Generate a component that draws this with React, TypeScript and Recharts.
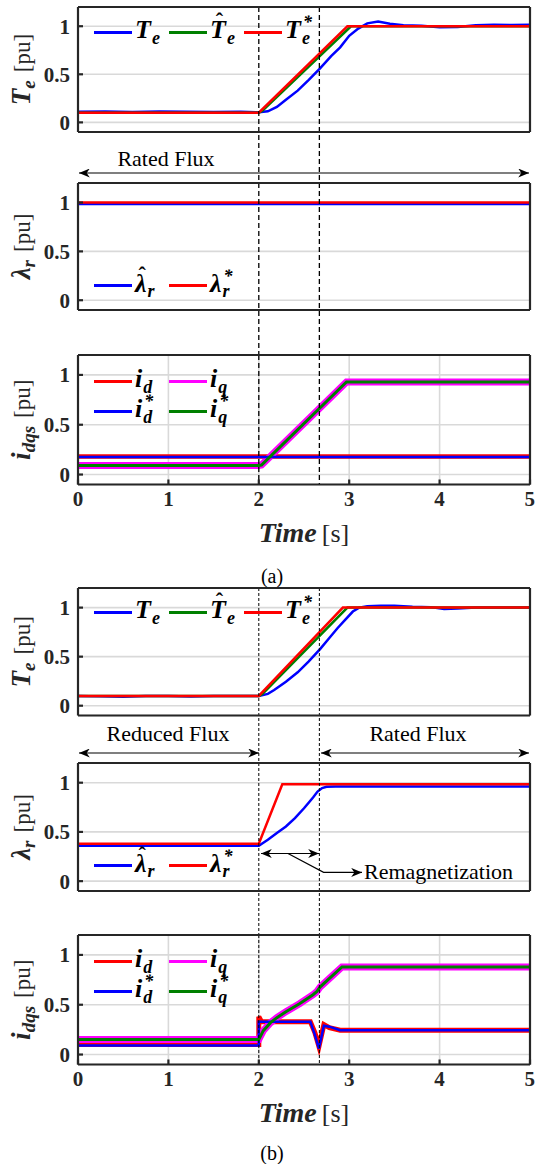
import React from 'react';
import { LineChart, Line, XAxis, YAxis, CartesianGrid, ReferenceLine, Legend } from 'recharts';

const SERIF = 'Liberation Serif, Tinos, DejaVu Serif, serif';
const INK = '#262626';
const GRID = '#d9d9d9';
const BLUE = '#0000ff';
const RED = '#ff0000';
const GREEN = '#008000';
const MAGENTA = '#ff00ff';

const timeTicks = [0, 1, 2, 3, 4, 5];
const valueTicks = [0, 0.5, 1];
const events = [2, 2.67];

// ---- (a) rated flux ----
const aTorqueRefT = [0, 2, 2.98, 5];
const aTorqueRef = [0.1, 0.1, 1, 1];
const aTorqueEstT = [0, 2, 2.04, 3.02, 5];
const aTorqueEst = [0.1, 0.1, 0.12, 1, 1];
const aTorqueT = [0, 0.3, 0.6, 0.9, 1.2, 1.5, 1.8, 2.0, 2.1, 2.2, 2.3, 2.43, 2.55, 2.68, 2.8, 2.9, 3.0, 3.1, 3.2, 3.32, 3.45, 3.6, 3.8, 4.0, 4.2, 4.4, 4.6, 4.8, 5];
const aTorque = [0.11, 0.112, 0.108, 0.112, 0.11, 0.107, 0.111, 0.105, 0.115, 0.16, 0.235, 0.33, 0.44, 0.565, 0.69, 0.78, 0.9, 0.975, 1.03, 1.05, 1.025, 1.01, 1.005, 0.99, 0.992, 1.01, 1.015, 1.012, 1.015];

const aFluxRefT = [0, 5];
const aFluxRef = [1, 1];
const aFluxEstT = [0, 5];
const aFluxEst = [0.985, 0.985];

const aIdT = [0, 2, 5];
const aId = [0.18, 0.18, 0.18];
const aIdRefT = [0, 5];
const aIdRef = [0.175, 0.175];
const aIqT = [0, 2, 2.03, 2.97, 5];
const aIq = [0.09, 0.09, 0.095, 0.93, 0.93];
const aIqRefT = [0, 2, 2.03, 2.97, 5];
const aIqRef = [0.09, 0.09, 0.095, 0.93, 0.93];

// ---- (b) reduced flux, then remagnetization ----
const bTorqueRefT = [0, 2, 2.93, 5];
const bTorqueRef = [0.1, 0.1, 1, 1];
const bTorqueEstT = [0, 2, 2.04, 2.98, 5];
const bTorqueEst = [0.1, 0.1, 0.12, 1, 1];
const bTorqueT = [0, 0.25, 0.5, 0.75, 1.0, 1.25, 1.5, 1.75, 2.0, 2.1, 2.17, 2.3, 2.43, 2.55, 2.68, 2.78, 2.87, 2.96, 3.04, 3.11, 3.2, 3.35, 3.5, 3.7, 3.9, 4.05, 4.2, 4.4, 4.6, 4.8, 5];
const bTorque = [0.1, 0.095, 0.09, 0.1, 0.1, 0.095, 0.1, 0.1, 0.1, 0.12, 0.16, 0.245, 0.34, 0.45, 0.58, 0.69, 0.79, 0.88, 0.96, 1.0, 1.015, 1.02, 1.02, 1.01, 1.005, 0.985, 0.99, 1.0, 1.0, 1.0, 1.0];

const bFluxRefT = [0, 2, 2.26, 5];
const bFluxRef = [0.38, 0.38, 0.985, 0.985];
const bFluxEstT = [0, 2, 2.1, 2.2, 2.3, 2.4, 2.5, 2.6, 2.65, 2.7, 2.75, 2.85, 5];
const bFluxEst = [0.36, 0.36, 0.42, 0.49, 0.555, 0.64, 0.74, 0.85, 0.91, 0.945, 0.958, 0.962, 0.962];

const bIdT = [0, 2, 2, 2.03, 2.57, 2.62, 2.665, 2.72, 2.78, 2.9, 5];
const bId = [0.1, 0.1, 0.38, 0.33, 0.33, 0.22, 0.08, 0.3, 0.27, 0.245, 0.245];
const bIdRefT = [0, 2, 2, 2.57, 2.62, 2.665, 2.72, 2.78, 2.9, 5];
const bIdRef = [0.09, 0.09, 0.33, 0.33, 0.2, 0.06, 0.29, 0.28, 0.245, 0.245];
const bIqT = [0, 2, 2.05, 2.13, 2.2, 2.3, 2.45, 2.6, 2.64, 2.68, 2.8, 2.92, 5];
const bIq = [0.15, 0.15, 0.24, 0.32, 0.37, 0.43, 0.51, 0.6, 0.63, 0.68, 0.78, 0.88, 0.88];
const bIqRefT = [0, 2, 2.05, 2.13, 2.2, 2.3, 2.45, 2.6, 2.64, 2.68, 2.8, 2.92, 5];
const bIqRef = [0.15, 0.15, 0.24, 0.32, 0.37, 0.43, 0.51, 0.6, 0.63, 0.68, 0.78, 0.88, 0.88];

const pts = (t: number[], v: number[]) => t.map((x, i) => ({ t: x, v: v[i] }));

function Sym({ base, sub, sup, hat }: { base: string; sub: string; sup?: string; hat?: boolean }) {
  return (
    <span style={{ display: 'inline-flex', alignItems: 'baseline', fontFamily: SERIF, fontWeight: 700, fontStyle: 'italic', color: '#000', lineHeight: 1 }}>
      <span style={{ position: 'relative', display: 'inline-block', fontSize: 26 }}>
        {base}
        {hat && (
          <span style={{ position: 'absolute', left: 0, right: 0, textAlign: 'center', top: '-0.3em', fontSize: 22, fontStyle: 'normal', paddingLeft: 3 }}>{'\u02c6'}</span>
        )}
      </span>
      <span style={{ position: 'relative', display: 'inline-block', fontSize: 18, marginLeft: 1 }}>
        <span style={{ position: 'relative', top: '0.32em' }}>{sub}</span>
        {sup && <span style={{ position: 'absolute', left: 1, top: '-0.55em' }}>{sup}</span>}
      </span>
    </span>
  );
}

type Item = { color: string; label: React.ReactNode };

function LegendBox({ rows }: { rows: Item[][] }) {
  return (
    <div style={{ display: 'flex', flexDirection: 'column' }}>
      {rows.map((row, ri) => (
        <div key={ri} style={{ display: 'flex', height: 30, alignItems: 'center' }}>
          {row.map((it, i) => (
            <div key={i} style={{ display: 'flex', alignItems: 'center', width: 75 }}>
              <span style={{ width: 38, height: 3, background: it.color, display: 'inline-block', flex: 'none' }} />
              <span style={{ marginLeft: 3, position: 'relative', top: -2 }}>{it.label}</span>
            </div>
          ))}
        </div>
      ))}
    </div>
  );
}

function YLab({ cy, sym, sub }: { cy: number; sym: string; sub: string }) {
  const cx = 30;
  return (
    <text x={cx} y={cy} transform={`rotate(-90 ${cx} ${cy})`} textAnchor="middle" fontFamily={SERIF} fill={INK}>
      <tspan fontWeight={700} fontStyle="italic" fontSize={27}>{sym}</tspan>
      <tspan fontWeight={700} fontStyle="italic" fontSize={19} dy={5}>{sub}</tspan>
      <tspan fontSize={23} dy={-5} dx={8}>[pu]</tspan>
    </text>
  );
}

function XLab({ baseY }: { baseY: number }) {
  return (
    <text x={304} y={baseY} textAnchor="middle" fontFamily={SERIF} fill={INK}>
      <tspan fontWeight={700} fontStyle="italic" fontSize={28}>Time</tspan>
      <tspan fontSize={26} dx={5}>[s]</tspan>
    </text>
  );
}

type Trace = { key: string; color: string; width: number; t: number[]; v: number[] };

type PanelProps = {
  chartTop: number;
  plotTop: number;
  plotBottom: number;
  chartBottom: number;
  traces: Trace[];
  sym: string;
  sub: string;
  legend: Item[][];
  legendY: number;
  last?: boolean;
  dash: string;
  dashWidth: number;
};

function Panel(p: PanelProps) {
  const h = p.chartBottom - p.chartTop;
  const xH = p.last ? 60 : 1;
  const margin = { top: p.plotTop - p.chartTop - 1, right: 4, bottom: p.chartBottom - p.plotBottom - xH, left: 0 };
  const localTop = p.plotTop - p.chartTop;
  const cy = localTop + (p.plotBottom - p.plotTop) / 2;
  const axisStyle = { stroke: INK, strokeWidth: 2.2 };
  const tickFont = { fontFamily: SERIF, fontWeight: 700, fontSize: 21, fill: INK };
  return (
    <div style={{ position: 'absolute', left: 0, top: p.chartTop }}>
      <LineChart width={535} height={h} margin={margin}>
        <CartesianGrid stroke={GRID} strokeWidth={1.6} />
        <XAxis
          type="number"
          dataKey="t"
          domain={[0, 5]}
          ticks={timeTicks}
          allowDataOverflow
          height={xH}
          tickSize={-5}
          tickMargin={12}
          axisLine={axisStyle}
          tickLine={axisStyle}
          tick={p.last ? tickFont : false}
          label={p.last ? <XLab baseY={p.plotBottom - p.chartTop + 57} /> : undefined}
        />
        <XAxis
          xAxisId="top"
          orientation="top"
          type="number"
          domain={[0, 5]}
          ticks={timeTicks}
          allowDataOverflow
          height={1}
          tickSize={-5}
          axisLine={axisStyle}
          tickLine={axisStyle}
          tick={false}
        />
        <YAxis
          type="number"
          domain={[-0.1, 1.2]}
          ticks={valueTicks}
          allowDataOverflow
          width={78}
          tickSize={-5}
          tickMargin={13}
          axisLine={axisStyle}
          tickLine={axisStyle}
          tick={tickFont}
          label={<YLab cy={cy} sym={p.sym} sub={p.sub} />}
        />
        <YAxis
          yAxisId="right"
          orientation="right"
          type="number"
          domain={[-0.1, 1.2]}
          ticks={valueTicks}
          allowDataOverflow
          width={1}
          tickSize={-5}
          axisLine={axisStyle}
          tickLine={axisStyle}
          tick={false}
        />
        {p.traces.map((s) => (
          <Line
            key={s.key}
            name={s.key}
            data={pts(s.t, s.v)}
            dataKey="v"
            type="linear"
            stroke={s.color}
            strokeWidth={s.width}
            dot={false}
            activeDot={false}
            isAnimationActive={false}
          />
        ))}
        {events.map((x) => (
          <ReferenceLine
            key={x}
            segment={[{ x, y: 1.2 }, { x, y: p.last ? -0.1 : -5 }]}
            ifOverflow="visible"
            stroke="#000"
            strokeWidth={p.dashWidth}
            strokeDasharray={p.dash}
          />
        ))}
        <Legend
          layout="vertical"
          align="center"
          verticalAlign="middle"
          wrapperStyle={{ left: 94, top: localTop + p.legendY - 15, width: 'auto' }}
          content={() => <LegendBox rows={p.legend} />}
        />
      </LineChart>
    </div>
  );
}

const torqueLegend: Item[][] = [[
  { color: BLUE, label: <Sym base="T" sub="e" /> },
  { color: GREEN, label: <Sym base="T" sub="e" hat /> },
  { color: RED, label: <Sym base="T" sub="e" sup="*" /> },
]];
const fluxLegend: Item[][] = [[
  { color: BLUE, label: <Sym base={'\u03bb'} sub="r" hat /> },
  { color: RED, label: <Sym base={'\u03bb'} sub="r" sup="*" /> },
]];
const currentLegend: Item[][] = [
  [
    { color: RED, label: <Sym base="i" sub="d" /> },
    { color: MAGENTA, label: <Sym base="i" sub="q" /> },
  ],
  [
    { color: BLUE, label: <Sym base="i" sub="d" sup="*" /> },
    { color: GREEN, label: <Sym base="i" sub="q" sup="*" /> },
  ],
];

const panels: PanelProps[] = [
  {
    chartTop: 0, plotTop: 7, plotBottom: 132, chartBottom: 183, sym: 'T', sub: 'e', legend: torqueLegend, legendY: 25, dash: '5 3', dashWidth: 1.3,
    traces: [
      { key: 'Te', color: BLUE, width: 2.5, t: aTorqueT, v: aTorque },
      { key: 'TeHat', color: GREEN, width: 2.5, t: aTorqueEstT, v: aTorqueEst },
      { key: 'TeRef', color: RED, width: 2.5, t: aTorqueRefT, v: aTorqueRef },
    ],
  },
  {
    chartTop: 179, plotTop: 183, plotBottom: 310, chartBottom: 355, sym: '\u03bb', sub: 'r', legend: fluxLegend, legendY: 102.5, dash: '5 3', dashWidth: 1.3,
    traces: [
      { key: 'lamHat', color: BLUE, width: 2.5, t: aFluxEstT, v: aFluxEst },
      { key: 'lamRef', color: RED, width: 2.5, t: aFluxRefT, v: aFluxRef },
    ],
  },
  {
    chartTop: 351, plotTop: 355, plotBottom: 484.5, chartBottom: 560, sym: 'i', sub: 'dqs', legend: currentLegend, legendY: 26, last: true, dash: '5 3', dashWidth: 1.3,
    traces: [
      { key: 'id', color: RED, width: 4.5, t: aIdT, v: aId },
      { key: 'iq', color: MAGENTA, width: 7, t: aIqT, v: aIq },
      { key: 'idRef', color: BLUE, width: 2.5, t: aIdRefT, v: aIdRef },
      { key: 'iqRef', color: GREEN, width: 3, t: aIqRefT, v: aIqRef },
    ],
  },
  {
    chartTop: 584, plotTop: 588, plotBottom: 715.5, chartBottom: 763, sym: 'T', sub: 'e', legend: torqueLegend, legendY: 24, dash: '3 2', dashWidth: 1,
    traces: [
      { key: 'Te', color: BLUE, width: 2.5, t: bTorqueT, v: bTorque },
      { key: 'TeHat', color: GREEN, width: 2.5, t: bTorqueEstT, v: bTorqueEst },
      { key: 'TeRef', color: RED, width: 2.5, t: bTorqueRefT, v: bTorqueRef },
    ],
  },
  {
    chartTop: 759, plotTop: 763, plotBottom: 891, chartBottom: 935, sym: '\u03bb', sub: 'r', legend: fluxLegend, legendY: 102.5, dash: '3 2', dashWidth: 1,
    traces: [
      { key: 'lamHat', color: BLUE, width: 2.5, t: bFluxEstT, v: bFluxEst },
      { key: 'lamRef', color: RED, width: 2.5, t: bFluxRefT, v: bFluxRef },
    ],
  },
  {
    chartTop: 931, plotTop: 935, plotBottom: 1064.5, chartBottom: 1140, sym: 'i', sub: 'dqs', legend: currentLegend, legendY: 26, last: true, dash: '3 2', dashWidth: 1,
    traces: [
      { key: 'id', color: RED, width: 5, t: bIdT, v: bId },
      { key: 'iq', color: MAGENTA, width: 7, t: bIqT, v: bIq },
      { key: 'idRef', color: BLUE, width: 2.5, t: bIdRefT, v: bIdRef },
      { key: 'iqRef', color: GREEN, width: 3, t: bIqRefT, v: bIqRef },
    ],
  },
];

function Notes() {
  const txt = { fontFamily: SERIF, fontSize: 22, fill: '#000' };
  const arrow = { stroke: '#000', strokeWidth: 1.2, fill: 'none' };
  return (
    <svg width={535} height={1164} style={{ position: 'absolute', left: 0, top: 0, pointerEvents: 'none' }}>
      <defs>
        <marker id="ah" viewBox="0 0 12 10" refX="12" refY="5" markerWidth="12" markerHeight="9" markerUnits="userSpaceOnUse" orient="auto-start-reverse">
          <path d="M0,0 L12,5 L0,10 L3.5,5 Z" fill="#000" />
        </marker>
      </defs>
      <text x={166} y={166} textAnchor="middle" {...txt}>Rated Flux</text>
      <line x1={79} y1={173} x2={529} y2={173} {...arrow} markerStart="url(#ah)" markerEnd="url(#ah)" />
      <text x={272} y={583} textAnchor="middle" {...txt} fontSize={20}>(a)</text>

      <text x={168} y={741} textAnchor="middle" {...txt}>Reduced Flux</text>
      <line x1={79} y1={753} x2={259} y2={753} {...arrow} markerStart="url(#ah)" markerEnd="url(#ah)" />
      <text x={418} y={741} textAnchor="middle" {...txt}>Rated Flux</text>
      <line x1={321} y1={753} x2={529} y2={753} {...arrow} markerStart="url(#ah)" markerEnd="url(#ah)" />
      <line x1={261} y1={853.5} x2={319} y2={853.5} {...arrow} markerStart="url(#ah)" markerEnd="url(#ah)" />
      <polyline points="288,853.5 323.6,872.4 362,872.4" {...arrow} markerEnd="url(#ah)" />
      <text x={364} y={879} {...txt}>Remagnetization</text>
      <text x={272} y={1160} textAnchor="middle" {...txt} fontSize={20}>(b)</text>
    </svg>
  );
}

export default function App() {
  return (
    <div style={{ position: 'absolute', left: 0, top: 0, width: 535, height: 1164, background: '#fff', overflow: 'hidden' }}>
      {panels.map((p, i) => (
        <Panel key={i} {...p} />
      ))}
      <Notes />
    </div>
  );
}
